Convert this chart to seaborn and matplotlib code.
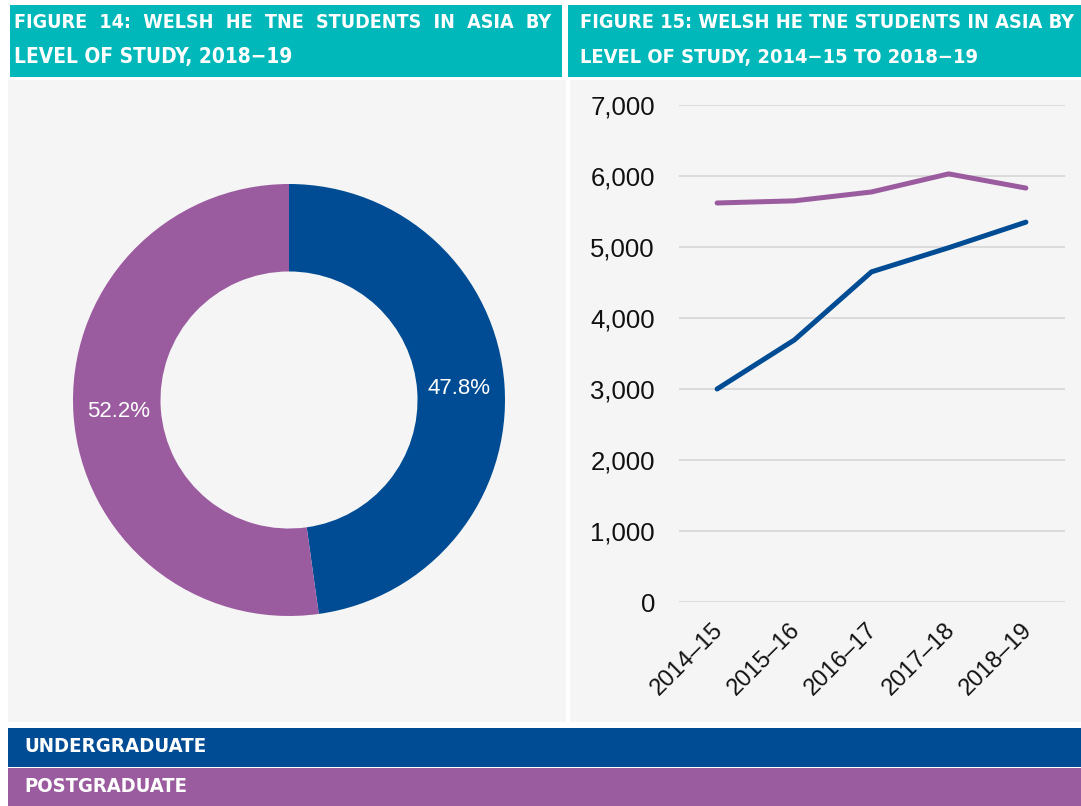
import numpy as np
import pandas as pd
import matplotlib.pyplot as plt
import matplotlib.patches as mpatches
import matplotlib.transforms as mtransforms
import seaborn as sns

sns.set_style("white")
plt.rcParams['font.family'] = ['Liberation Sans', 'DejaVu Sans']

# dados
years = ["2014\u201315", "2015\u201316", "2016\u201317", "2017\u201318", "2018\u201319"]
undergraduate = [3000, 3690, 4650, 4990, 5350]
postgraduate = [5620, 5650, 5775, 6030, 5830]
share_labels = ["Undergraduate", "Postgraduate"]
share_values = [47.8, 52.2]

TEAL = "#00b8b9"
BLUE = "#004c94"
PURPLE = "#9b5c9f"
PANEL = "#f5f5f5"

W, H = 1081, 806
fig = plt.figure(figsize=(W / 100, H / 100), dpi=100)
renderer = fig.canvas.get_renderer()


def box(x0, y0, x1, y1):
    # pixel box -> figure fraction [left, bottom, width, height]
    return [x0 / W, 1 - y1 / H, (x1 - x0) / W, (y1 - y0) / H]


def rect(x0, y0, x1, y1, color):
    fig.add_artist(mpatches.Rectangle((x0 / W, 1 - y1 / H), (x1 - x0) / W, (y1 - y0) / H,
                                      transform=fig.transFigure, color=color, lw=0, zorder=0))


def ftext(x, y, s, width, size=17):
    # texto branco em negrito, reduzido até caber na largura pedida
    t = fig.text(x / W, 1 - y / H, s, color="white", fontweight="bold",
                 family=["DejaVu Sans"], fontstretch="condensed",
                 va="center", fontsize=size)
    w = t.get_window_extent(renderer).width
    if w > width:
        t.set_fontsize(size * width / w)
    return t


# cabeçalhos
rect(10, 5, 562, 77, TEAL)
rect(568, 5, W, 77, TEAL)
ftext(14, 22, "FIGURE  14:  WELSH  HE  TNE  STUDENTS  IN  ASIA  BY", 538)
ftext(14, 57, "LEVEL OF STUDY, 2018\u221219", 279)
ftext(580, 22, "FIGURE 15: WELSH HE TNE STUDENTS IN ASIA BY", 495)
ftext(580, 57, "LEVEL OF STUDY, 2014\u221215 TO 2018\u221219", 398)

# painéis
rect(8, 80, 566, 722, PANEL)
rect(570, 80, W, 722, PANEL)

# legenda em faixas
rect(8, 728, W, 767, BLUE)
rect(8, 768, W, 806, PURPLE)
ftext(24, 747, "UNDERGRADUATE", 183)
ftext(24, 786, "POSTGRADUATE", 163)

# Figura 14: donut
ax1 = fig.add_axes(box(73, 184, 505, 616))
ax1.pie(share_values, colors=[BLUE, PURPLE], startangle=90, counterclock=False,
        wedgeprops=dict(width=0.405, edgecolor="none"),
        labels=[f"{v:.1f}%" for v in share_values], labeldistance=0.79,
        textprops=dict(color="white", fontsize=16))
for t in ax1.texts:
    t.set_ha("center")
ax1.set_xlim(-1, 1)
ax1.set_ylim(-1, 1)
ax1.set_aspect("equal")

# Figura 15: linhas
df = pd.DataFrame({"year": years * 2,
                   "students": undergraduate + postgraduate,
                   "level": ["Undergraduate"] * 5 + ["Postgraduate"] * 5})
ax2 = fig.add_axes(box(678.5, 105, 1064.5, 602))
sns.lineplot(data=df, x="year", y="students", hue="level", sort=False,
             palette={"Undergraduate": BLUE, "Postgraduate": PURPLE},
             linewidth=3.6, legend=False, ax=ax2)
for line in ax2.lines:
    line.set_solid_capstyle("round")
    line.set_solid_joinstyle("round")
ax2.set_facecolor(PANEL)
ax2.set_xlim(-0.5, 4.5)
ax2.set_ylim(0, 7000)
ax2.set_yticks(range(0, 7001, 1000))
ax2.set_yticklabels([f"{v:,}" for v in range(0, 7001, 1000)], fontsize=18.5, color="#111111")
ax2.yaxis.grid(True, color="#d9d9d9", lw=1.3)
ax2.set_axisbelow(True)
for s in ax2.spines.values():
    s.set_visible(False)
ax2.tick_params(axis="both", length=0)
ax2.tick_params(axis="y", pad=17)
ax2.tick_params(axis="x", pad=12)
shift = mtransforms.ScaledTranslation(-5 / 100, 0, fig.dpi_scale_trans)
for lab in ax2.get_xticklabels():
    lab.set_rotation(45)
    lab.set_ha("right")
    lab.set_rotation_mode("anchor")
    lab.set_fontsize(17)
    lab.set_color("#111111")
    lab.set_transform(lab.get_transform() + shift)
ax2.set_xlabel("")
ax2.set_ylabel("")

plt.savefig("out.png", dpi=100)
